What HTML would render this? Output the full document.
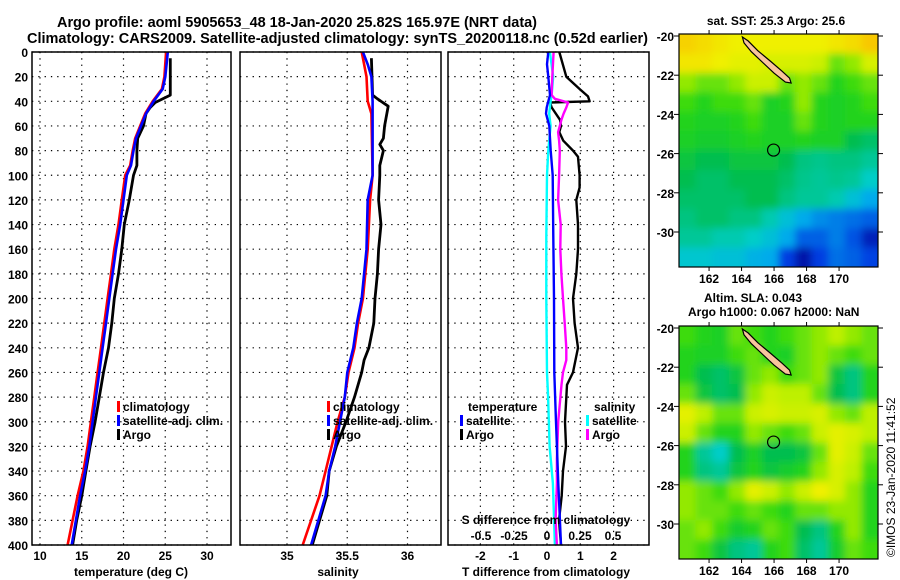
<!DOCTYPE html>
<html><head><meta charset="utf-8"><style>
html,body{margin:0;padding:0;background:#fff}
svg{display:block;font-family:"Liberation Sans",Arial,sans-serif;font-weight:bold}
</style></head><body>
<svg id="chart" width="900" height="580" viewBox="0 0 900 580">
<defs>
<filter id="blur" x="0" y="0" width="1" height="1"><feGaussianBlur stdDeviation="4"/></filter>
<clipPath id="clipTop"><rect x="679" y="34" width="199" height="233"/></clipPath>
<clipPath id="clipBot"><rect x="679" y="326" width="199" height="233"/></clipPath>
</defs>
<text x="57" y="27" font-size="14.5" textLength="480">Argo profile: aoml 5905653_48 18-Jan-2020 25.82S 165.97E (NRT data)</text>
<text x="27" y="43" font-size="14.5" textLength="621">Climatology: CARS2009. Satellite-adjusted climatology: synTS_20200118.nc (0.52d earlier)</text>
<g id="g"></g>
</svg>
<script>
// ---------- data ----------
const depthTicks = [0,20,40,60,80,100,120,140,160,180,200,220,240,260,280,300,320,340,360,380,400];
const tempTicks = [10,15,20,25,30];
const salTicks = [35,35.5,36];
const tdiffTicks = [-2,-1,0,1,2];
const sdiffTicks = [-0.5,-0.25,0,0.25,0.5];
const sdiffTickLabels = ['-0.5','-0.25','0','0.25','0.5'];

const tClimDepth = [0,20,30,40,50,60,70,80,92,100,120,140,160,180,200,220,240,260,280,300,320,340,360,380,400];
const tClimVal   = [25.1,24.9,24.6,23.5,22.6,22.0,21.4,21.1,20.8,20.2,19.8,19.4,18.9,18.5,18.1,17.7,17.3,16.9,16.5,16.1,15.7,15.2,14.5,13.9,13.3];
const tSatVal    = [25.3,25.0,24.7,23.6,22.7,22.1,21.5,21.2,20.9,20.4,20.0,19.6,19.1,18.7,18.3,17.9,17.5,17.1,16.7,16.3,15.9,15.4,14.8,14.3,13.8];
const tArgoDepth = [5,35,41,45,50,60,70,80,92,100,120,140,160,180,200,220,240,260,280,300,320,340,360,380,400];
const tArgoVal   = [25.6,25.6,23.8,23.2,22.7,22.4,21.7,21.6,21.6,21.2,20.7,20.1,19.8,19.4,18.9,18.6,18.2,17.6,17.1,16.6,16.0,15.5,15.0,14.4,13.9];

const sClimDepth = [0,10,20,40,50,100,120,160,200,220,240,260,280,300,320,340,360,400];
const sClimVal   = [35.62,35.64,35.66,35.67,35.70,35.71,35.69,35.67,35.63,35.59,35.56,35.51,35.48,35.42,35.37,35.32,35.27,35.13];
const sSatVal    = [35.63,35.67,35.70,35.71,35.71,35.71,35.67,35.66,35.62,35.58,35.55,35.50,35.48,35.44,35.40,35.35,35.32,35.20];
const sArgoDepth = [5,35,38,44,60,70,75,80,92,100,120,130,140,160,180,200,220,240,250,260,280,300,320,340,360,400];
const sArgoVal   = [35.70,35.71,35.75,35.84,35.81,35.80,35.77,35.80,35.77,35.77,35.76,35.77,35.78,35.76,35.75,35.73,35.72,35.68,35.64,35.62,35.56,35.49,35.41,35.35,35.33,35.21];

const dTArgoDepth = [0,20,30,36,40,41,45,55,60,65,72,80,85,100,110,120,140,160,180,200,220,240,260,270,300,320,340,360,380,400];
const dTArgoVal   = [0.37,0.58,0.98,1.23,1.28,0.09,0.14,0.39,0.42,0.37,0.49,0.78,0.93,0.98,0.98,0.88,0.93,0.93,0.88,0.78,0.83,0.93,0.78,0.60,0.54,0.57,0.48,0.44,0.36,0.42];
const dTSatDepth  = [0,10,20,35,40,45,50,60,80,100,150,200,260,300,350,400];
const dTSatVal    = [0.04,0.0,0.04,0.09,0.04,-0.01,-0.03,0.07,0.11,0.17,0.19,0.21,0.22,0.27,0.34,0.42];
const dSSatDepth  = [0,20,35,40,50,60,80,100,150,200,260,280,320,350,400];
const dSSatVal    = [0.022,0.047,0.035,0.027,0.017,0.027,0.01,0.0,-0.005,-0.005,0.0,0.008,0.02,0.045,0.06];
const dSArgoDepth = [0,20,35,38,41,45,50,55,60,65,72,80,100,120,140,160,180,200,220,240,250,260,270,300,330,350,380,400];
const dSArgoVal   = [0.05,0.04,0.035,0.06,0.16,0.146,0.126,0.109,0.097,0.084,0.092,0.097,0.092,0.084,0.104,0.101,0.109,0.121,0.134,0.146,0.146,0.121,0.11,0.085,0.075,0.075,0.065,0.075];

const sstGrid = [
[0.78,0.76,0.74,0.72,0.72,0.72,0.72,0.72,0.72,0.74,0.76,0.80],
[0.74,0.74,0.72,0.70,0.70,0.68,0.68,0.68,0.66,0.60,0.62,0.68],
[0.62,0.60,0.60,0.62,0.66,0.66,0.60,0.62,0.60,0.56,0.58,0.60],
[0.58,0.56,0.58,0.58,0.60,0.55,0.56,0.62,0.56,0.55,0.56,0.58],
[0.56,0.55,0.55,0.56,0.58,0.55,0.55,0.60,0.56,0.55,0.56,0.56],
[0.55,0.54,0.54,0.55,0.56,0.55,0.55,0.56,0.55,0.55,0.50,0.48],
[0.52,0.50,0.50,0.52,0.52,0.52,0.50,0.46,0.45,0.46,0.46,0.44],
[0.50,0.48,0.48,0.50,0.50,0.50,0.48,0.45,0.44,0.45,0.44,0.40],
[0.48,0.48,0.48,0.48,0.50,0.50,0.46,0.44,0.44,0.42,0.36,0.30],
[0.46,0.48,0.48,0.46,0.46,0.42,0.36,0.30,0.26,0.24,0.22,0.20],
[0.44,0.44,0.42,0.42,0.40,0.36,0.30,0.20,0.20,0.24,0.18,0.08],
[0.38,0.38,0.36,0.36,0.32,0.30,0.15,0.05,0.15,0.22,0.20,0.16]];
const slaGrid = [
[0.58,0.56,0.55,0.60,0.58,0.56,0.58,0.60,0.62,0.64,0.62,0.60],
[0.56,0.55,0.55,0.58,0.60,0.56,0.55,0.60,0.62,0.60,0.58,0.60],
[0.56,0.50,0.48,0.52,0.60,0.62,0.58,0.60,0.62,0.52,0.46,0.56],
[0.60,0.52,0.48,0.50,0.62,0.66,0.64,0.64,0.60,0.50,0.46,0.56],
[0.70,0.64,0.60,0.60,0.66,0.68,0.66,0.66,0.68,0.62,0.60,0.64],
[0.66,0.60,0.56,0.56,0.62,0.60,0.58,0.60,0.66,0.70,0.68,0.64],
[0.56,0.44,0.40,0.50,0.55,0.50,0.50,0.52,0.60,0.70,0.66,0.60],
[0.56,0.46,0.44,0.52,0.56,0.52,0.54,0.56,0.62,0.68,0.64,0.58],
[0.62,0.60,0.58,0.62,0.70,0.66,0.62,0.66,0.72,0.68,0.62,0.56],
[0.62,0.60,0.60,0.58,0.60,0.58,0.56,0.60,0.60,0.62,0.62,0.56],
[0.60,0.62,0.58,0.54,0.56,0.60,0.58,0.50,0.46,0.56,0.62,0.56],
[0.60,0.58,0.52,0.46,0.44,0.56,0.58,0.48,0.44,0.54,0.60,0.58]];
const latTicks = [-20,-22,-24,-26,-28,-30];
const lonTicks = [162,164,166,168,170];
const islandLon = [164.05,164.4,165.0,165.8,166.5,166.95,167.05,166.7,166.0,165.3,164.6,164.15];
const islandLat = [-20.05,-20.25,-20.75,-21.3,-21.8,-22.15,-22.4,-22.35,-21.9,-21.35,-20.8,-20.35];
const argoLon = 165.97, argoLat = -25.82;

// ---------- helpers ----------
const NS='http://www.w3.org/2000/svg';
const G=document.getElementById('g');
function mk(tag,attrs,parent){const e=document.createElementNS(NS,tag);for(const k in attrs)e.setAttribute(k,attrs[k]);(parent||G).appendChild(e);return e;}
const yD = d => 52 + d*1.2325;
const TOP=52, BOT=545;
const panels = [
  {x0:32,x1:231, sx:v=>40+(v-10)*8.35},
  {x0:240,x1:441, sx:v=>287+(v-35)*120.5},
  {x0:448,x1:649, sx:v=>547+v*33.3}
];
const sxS = v => 547 + v*132;

function grid(p, ticks, sx){
  ticks.forEach(t=>{
    const l=mk('line',{x1:sx(t),x2:sx(t),y1:TOP,y2:BOT,stroke:'#000','stroke-width':1.2,'stroke-dasharray':'1.3 5'});
    
    
  });
  depthTicks.forEach(d=>{
    const l=mk('line',{x1:p.x0,x2:p.x1,y1:yD(d),y2:yD(d),stroke:'#000','stroke-width':1.2,'stroke-dasharray':'1.3 5'});
    
    
  });
}
function frame(p,name){
  const r=mk('rect',{x:p.x0,y:TOP,width:p.x1-p.x0,height:BOT-TOP,fill:'none',stroke:'#000','stroke-width':1.5});
  
  
}
function line(depths, vals, sx, color, name, w){
  const pts=depths.map((d,i)=>sx(vals[i]).toFixed(1)+','+yD(d).toFixed(1)).join(' ');
  const e=mk('polyline',{points:pts,fill:'none',stroke:color,'stroke-width':w||2.6,'stroke-linejoin':'round'});
  
  
}
function txt(x,y,s,size,anchor,name,fill){
  const e=mk('text',{x:x,y:y,'font-size':size,'text-anchor':anchor||'start',fill:fill||'#000'});
  e.textContent=s;
  
  
  return e;
}
function legend(x,y,color,label,name){
  const m=mk('rect',{x:x,y:y-10,width:3,height:11,fill:color});
  
  
  txt(x+6,y,label,12,'start',name);
}

// ---------- panels ----------
panels.forEach((p,i)=>{mk('rect',{x:p.x0,y:TOP,width:p.x1-p.x0,height:BOT-TOP,fill:'#fff'});});
grid(panels[0],tempTicks,panels[0].sx);
grid(panels[1],salTicks,panels[1].sx);
grid(panels[2],tdiffTicks,panels[2].sx);

depthTicks.forEach(d=>{txt(28,yD(d)+5,String(d),12,'end','depth-tick-label');});

line(tArgoDepth,tArgoVal,panels[0].sx,'#000','temp-argo-line',2.8);
line(tClimDepth,tClimVal,panels[0].sx,'#f00','temp-climatology-line');
line(tClimDepth,tSatVal,panels[0].sx,'#00f','temp-satellite-line');
line(sArgoDepth,sArgoVal,panels[1].sx,'#000','sal-argo-line',2.8);
line(sClimDepth,sClimVal,panels[1].sx,'#f00','sal-climatology-line');
line(sClimDepth,sSatVal,panels[1].sx,'#00f','sal-satellite-line');
line(dTArgoDepth,dTArgoVal,panels[2].sx,'#000','tdiff-argo-line',2.4);
line(dSSatDepth,dSSatVal,sxS,'#0ff','sdiff-satellite-line',2.4);
line(dSArgoDepth,dSArgoVal,sxS,'#f0f','sdiff-argo-line',2.4);
line(dTSatDepth,dTSatVal,panels[2].sx,'#00f','tdiff-satellite-line',2.4);

frame(panels[0],'temperature-panel');
frame(panels[1],'salinity-panel');
frame(panels[2],'difference-panel');

tempTicks.forEach(t=>txt(panels[0].sx(t),560,String(t),12,'middle','temp-tick-label'));
salTicks.forEach(t=>txt(panels[1].sx(t),560,String(t),12,'middle','sal-tick-label'));
tdiffTicks.forEach(t=>txt(panels[2].sx(t),560,String(t),12,'middle','tdiff-tick-label'));
sdiffTicks.forEach((t,i)=>txt(sxS(t),540,sdiffTickLabels[i],12,'middle','sdiff-tick-label'));
txt(131,576,'temperature (deg C)',12,'middle','temp-axis-title');
txt(338,576,'salinity',12,'middle','sal-axis-title');
txt(546,576,'T difference from climatology',12,'middle','tdiff-axis-title');
txt(546,524,'S difference from climatology',12,'middle','sdiff-axis-title');

legend(117,411,'#f00','climatology','legend-climatology');
legend(117,425,'#00f','satellite-adj. clim.','legend-satellite-adj');
legend(117,439,'#000','Argo','legend-argo');
legend(327,411,'#f00','climatology','legend2-climatology');
legend(327,425,'#00f','satellite-adj. clim.','legend2-satellite-adj');
legend(327,439,'#000','Argo','legend2-argo');
txt(468,411,'temperature',12,'start','legend-temperature-header');
legend(460,425,'#00f','satellite','legend-tdiff-satellite');
legend(460,439,'#000','Argo','legend-tdiff-argo');
txt(594,411,'salinity',12,'start','legend-salinity-header');
legend(586,425,'#0ff','satellite','legend-sdiff-satellite');
legend(586,439,'#f0f','Argo','legend-sdiff-argo');

// ---------- maps ----------
const stops=[[0,[0,0,140]],[0.15,[0,60,225]],[0.3,[0,170,235]],[0.4,[0,205,200]],[0.5,[0,190,80]],[0.57,[40,215,20]],[0.64,[190,240,0]],[0.72,[240,240,0]],[0.82,[250,190,0]],[1,[240,120,0]]];
function cmap(v){for(let i=1;i<stops.length;i++){if(v<=stops[i][0]){const a=stops[i-1],b=stops[i],f=(v-a[0])/(b[0]-a[0]);const c=a[1].map((x,k)=>Math.round(x+(b[1][k]-x)*f));return 'rgb('+c.join(',')+')';}}return 'rgb(240,120,0)';}
const MX0=679,MX1=878,MW=199,MH=233;
const lonX = lon => MX0 + (lon-160.15)*16.25;
const latOff = lat => 2 + (-20-lat)*19.6;
function drawMap(y0, gridVals, clip, name){
  const grp=mk('g',{'clip-path':'url(#'+clip+')'});
  
  
  const inner=mk('g',{filter:'url(#blur)'},grp);
  const rows=gridVals.length, cols=gridVals[0].length;
  const cw=MW/cols, ch=MH/rows;
  mk('rect',{x:MX0-10,y:y0-10,width:MW+20,height:MH+20,fill:cmap(0.55)},inner);
  gridVals.forEach((row,r)=>row.forEach((v,c)=>{
    const cell=mk('rect',{x:MX0+c*cw-(c==0?10:0),y:y0+r*ch-(r==0?10:0),width:cw+1+(c==0||c==cols-1?10:0),height:ch+1+(r==0||r==rows-1?10:0),fill:cmap(v)},inner);
    
    
  }));
  const pts=islandLon.map((lo,i)=>lonX(lo).toFixed(1)+','+(y0+latOff(islandLat[i])).toFixed(1)).join(' ');
  const isl=mk('polygon',{points:pts,fill:'#f8c49c',stroke:'#000','stroke-width':1.2},grp);
  
  
  const c=mk('circle',{cx:lonX(argoLon),cy:y0+latOff(argoLat),r:6,fill:'none',stroke:'#000','stroke-width':1.2},grp);
  
  
  const fr=mk('rect',{x:MX0,y:y0,width:MW,height:MH,fill:'none',stroke:'#000','stroke-width':1.2});
  
  
  latTicks.forEach(l=>{
    const yy=y0+latOff(l);
    mk('line',{x1:MX0-5,x2:MX0,y1:yy,y2:yy,stroke:'#000'});
    mk('line',{x1:MX1,x2:MX1+5,y1:yy,y2:yy,stroke:'#000'});
    txt(674,yy+5,String(l),12,'end','lat-tick-label');
  });
  lonTicks.forEach(l=>{
    const xx=lonX(l);
    mk('line',{x1:xx,x2:xx,y1:y0-4,y2:y0,stroke:'#000'});
    mk('line',{x1:xx,x2:xx,y1:y0+MH,y2:y0+MH+4,stroke:'#000'});
    txt(xx,y0+MH+16,String(l),12,'middle','lon-tick-label');
  });
}
drawMap(34,sstGrid,'clipTop','sst-map');
drawMap(326,slaGrid,'clipBot','sla-map');
txt(776,25,'sat. SST: 25.3 Argo: 25.6',12,'middle','sst-map-title');
txt(704,302,'Altim. SLA: 0.043',12,'start','sla-map-title');
txt(688,316,'Argo h1000: 0.067 h2000: NaN',12,'start','sla-map-subtitle');
const cr=txt(0,0,'\u00a9IMOS 23-Jan-2020 11:41:52',12,'start','copyright-timestamp');
cr.setAttribute('font-weight','normal');
cr.setAttribute('transform','translate(895,557) rotate(-90)');
</script>
</body></html>
